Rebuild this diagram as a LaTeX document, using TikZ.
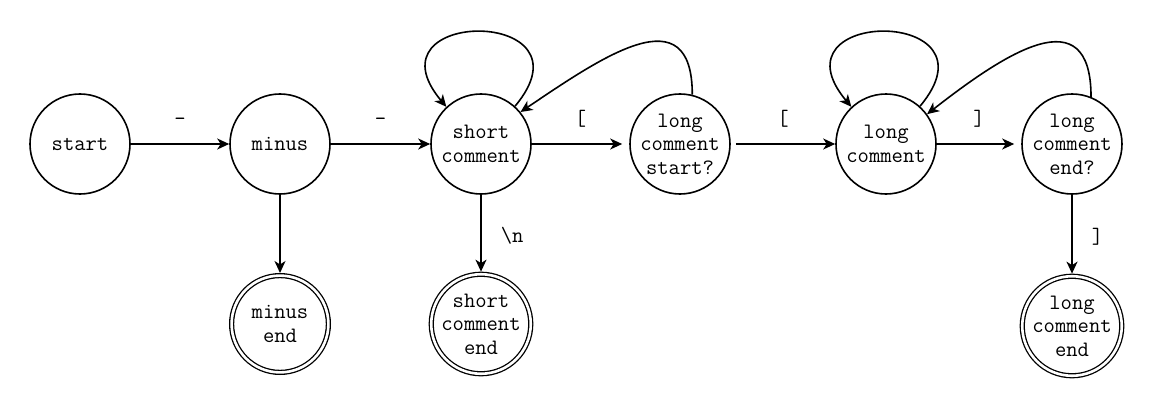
\documentclass[tikz,border=0pt]{standalone}
\usepackage{fontspec}
\usetikzlibrary{arrows.meta}

\begin{document}
\begin{tikzpicture}[x=1pt,y=1pt,line width=1.6pt,
  font=\ttfamily\fontsize{22}{23.5}\selectfont,
  state/.style={draw,circle,minimum size=100pt,inner sep=0pt,align=center},
  accept/.style={state,double,line width=1.3pt,double distance=2.6pt,minimum size=96.8pt,outer sep=2.6pt},
  arr/.style={-{Stealth[length=12pt,width=11pt,inset=3.5pt]}},
  lbl/.style={midway,above=14pt,inner sep=0pt,text height=14pt,text depth=4pt},
  vlbl/.style={pos=0.55,right=19pt,inner sep=0pt,text height=14pt,text depth=4pt}]
\useasboundingbox (0,0) rectangle (1160,400);
% states
\node[state] (start) at (80,256) {start};
\node[state] (minus) at (280,256) {minus};
\node[state] (short) at (481,256) {short\\comment};
\node[state] (lstart) at (680,256) {long\\comment\\start?};
\node[state] (long) at (886,256) {long\\comment};
\node[state] (lend) at (1072,256) {long\\comment\\end?};
\node[accept] (minusend) at (280,76) {minus\\end};
\node[accept] (shortend) at (481,76) {short\\comment\\end};
\node[accept] (longend) at (1072,74) {long\\comment\\end};
% transitions
\draw[arr] (start) -- (minus) node[lbl] {-};
\draw[arr] (minus) -- (short) node[lbl] {-};
\draw[arr,shorten >=7pt] (short) -- (lstart) node[lbl] {[};
\draw[arr,shorten <=5pt] (lstart) -- (long) node[lbl] {[};
\draw[arr,shorten >=7pt] (long) -- (lend) node[lbl] {]};
\draw[arr] (minus) -- (minusend);
\draw[arr] (short) -- (shortend) node[vlbl] {\textbackslash n};
\draw[arr] (lend) -- (longend) node[vlbl] {]};
% loops and back edges
\draw[arr] (short.48) .. controls +(50:130) and +(130:130) .. (short.133);
\draw[arr] (long.48) .. controls +(50:130) and +(130:130) .. (long.133);
\draw[arr] (lstart.76) .. controls +(90:100) and +(34:100) .. (short.39);
\draw[arr] (lend.68) .. controls +(90:100) and +(38:100) .. (long.36);
\end{tikzpicture}
\end{document}
